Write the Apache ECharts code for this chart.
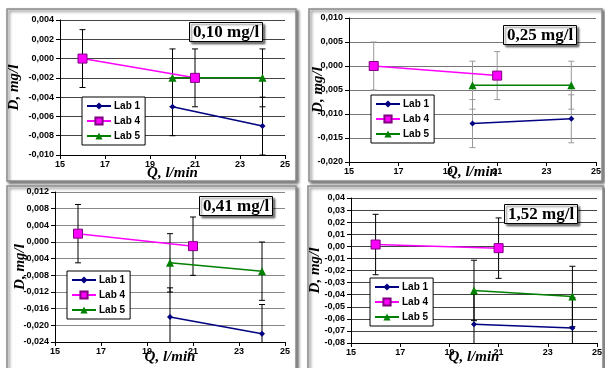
<!DOCTYPE html>
<html>
<head>
<meta charset="utf-8">
<script src="https://cdn.jsdelivr.net/npm/echarts@6/dist/echarts.min.js"></script>
<style>
  html, body { margin: 0; padding: 0; background: #fff; }
  #chart { width: 605px; height: 368px; }
</style>
</head>
<body>
<div id="chart"></div>
<script>
// data: [Q l/min, D mg/l]
const labNames = ['Lab 1', 'Lab 4', 'Lab 5'];
const xTicks = { min: 15, max: 25, interval: 2 };

// 0,10 mg/l
const p1Lab1 = [[20, -0.005], [24, -0.007]];
const p1Lab4 = [[16, 0.000], [21, -0.002]];
const p1Lab5 = [[20, -0.002], [24, -0.002]];
const p1Err = 0.003;
const p1Y = { min: -0.010, max: 0.004, interval: 0.002, dec: 3 };

// 0,25 mg/l
const p2Lab1 = [[20, -0.012], [24, -0.011]];
const p2Lab4 = [[16, 0.000], [21, -0.002]];
const p2Lab5 = [[20, -0.004], [24, -0.004]];
const p2Err = 0.005;
const p2Y = { min: -0.020, max: 0.010, interval: 0.005, dec: 3 };

// 0,41 mg/l
const p3Lab1 = [[20, -0.018], [24, -0.022]];
const p3Lab4 = [[16, 0.002], [21, -0.001]];
const p3Lab5 = [[20, -0.005], [24, -0.007]];
const p3Err = 0.007;
const p3Y = { min: -0.024, max: 0.012, interval: 0.004, dec: 3 };

// 1,52 mg/l
const p4Lab1 = [[20, -0.0645], [24, -0.0675]];
const p4Lab4 = [[16, 0.0015], [21, -0.0015]];
const p4Lab5 = [[20, -0.0365], [24, -0.0415]];
const p4Err = 0.025;
const p4Y = { min: -0.08, max: 0.04, interval: 0.01, dec: 2 };

const titles = ['0,10 mg/l', '0,25 mg/l', '0,41 mg/l', '1,52 mg/l'];

const panels = [
  { labs: [p1Lab1, p1Lab4, p1Lab5], err: p1Err, y: p1Y, title: titles[0],
    grid: { left: 60, top: 20, width: 225, height: 135 },
    frame: { x: 7, y: 9, width: 289, height: 172 },
    titlePos: { left: 189, top: 22 }, legendPos: { left: 82, top: 97 },
    gridColor: '#444', errColor: '#000', xNameGap: 11, yNameGap: 38 },
  { labs: [p2Lab1, p2Lab4, p2Lab5], err: p2Err, y: p2Y, title: titles[1],
    grid: { left: 349, top: 18, width: 247, height: 144 },
    frame: { x: 309, y: 9, width: 293, height: 172 },
    titlePos: { left: 503, top: 25 }, legendPos: { left: 371, top: 95 },
    gridColor: '#777', errColor: '#999', xNameGap: 3, yNameGap: 23 },
  { labs: [p3Lab1, p3Lab4, p3Lab5], err: p3Err, y: p3Y, title: titles[2],
    grid: { left: 55, top: 192, width: 230, height: 150 },
    frame: { x: 7, y: 186, width: 289, height: 200 },
    titlePos: { left: 199, top: 196 }, legendPos: { left: 67, top: 271 },
    gridColor: '#888', errColor: '#000', xNameGap: 8, yNameGap: 27 },
  { labs: [p4Lab1, p4Lab4, p4Lab5], err: p4Err, y: p4Y, title: titles[3],
    grid: { left: 351, top: 198, width: 246, height: 145 },
    frame: { x: 308, y: 186, width: 295, height: 200 },
    titlePos: { left: 504, top: 204 }, legendPos: { left: 370, top: 278 },
    gridColor: '#444', errColor: '#000', xNameGap: 7, yNameGap: 28 }
];

const labStyle = [
  { color: '#000080', symbol: 'diamond', symbolSize: 6, border: '#000080' },
  { color: '#ff00ff', symbol: 'rect', symbolSize: 9, border: '#800080' },
  { color: '#008000', symbol: 'triangle', symbolSize: 8, border: '#008000' }
];

const tickFont = { fontFamily: '"Liberation Sans Narrow", "Liberation Sans", Arial', fontWeight: 'bold', fontSize: 9, color: '#000' };
const nameFont = { fontFamily: '"Liberation Serif", "Times New Roman", serif', fontStyle: 'italic', fontWeight: 'bold', fontSize: 15, color: '#000' };

function errRenderer(color) {
  return function (params, api) {
    const x = api.value(0), y = api.value(1), e = api.value(2);
    const top = api.coord([x, y + e]);
    const bot = api.coord([x, y - e]);
    const cw = 3;
    const st = { stroke: color, lineWidth: 1 };
    return {
      type: 'group',
      children: [
        { type: 'line', shape: { x1: top[0], y1: top[1], x2: bot[0], y2: bot[1] }, style: st },
        { type: 'line', shape: { x1: top[0] - cw, y1: top[1], x2: top[0] + cw, y2: top[1] }, style: st },
        { type: 'line', shape: { x1: bot[0] - cw, y1: bot[1], x2: bot[0] + cw, y2: bot[1] }, style: st }
      ]
    };
  };
}

const option = {
  animation: false,
  backgroundColor: '#fff',
  graphic: [],
  title: [],
  legend: [],
  grid: [],
  xAxis: [],
  yAxis: [],
  series: []
};

panels.forEach(function (p, i) {
  option.graphic.push({
    type: 'rect', z: -10, silent: true,
    shape: p.frame,
    style: { fill: '#fff', stroke: '#8a8a8a', lineWidth: 1.5, shadowColor: 'rgba(0,0,0,0.55)', shadowBlur: 3, shadowOffsetX: 2, shadowOffsetY: 2 }
  });
  option.grid.push(Object.assign({ containLabel: false }, p.grid));
  option.title.push({
    text: p.title, left: p.titlePos.left, top: p.titlePos.top,
    padding: [2, 4, 1, 4],
    backgroundColor: '#fff', borderColor: '#000', borderWidth: 1,
    shadowColor: 'rgba(0,0,0,0.5)', shadowBlur: 2, shadowOffsetX: 2, shadowOffsetY: 2,
    textStyle: { fontFamily: '"Liberation Serif", "Times New Roman", serif', fontWeight: 'bold', fontSize: 17, color: '#000' }
  });
  option.legend.push({
    data: labNames, orient: 'vertical',
    left: p.legendPos.left, top: p.legendPos.top,
    padding: [4, 5, 4, 4], itemGap: 5, itemWidth: 24, itemHeight: 9,
    backgroundColor: '#fff', borderColor: '#000', borderWidth: 1,
    textStyle: { fontFamily: '"Liberation Sans Narrow", "Liberation Sans", Arial', fontWeight: 'bold', fontSize: 10, color: '#000', padding: [0, 0, 0, -2] }
  });
  option.xAxis.push({
    type: 'value', gridIndex: i,
    min: xTicks.min, max: xTicks.max, interval: xTicks.interval,
    name: 'Q, l/min', nameLocation: 'middle', nameGap: p.xNameGap, nameTextStyle: nameFont,
    nameMoveOverlap: false,
    axisLine: { show: true, onZero: false, lineStyle: { color: '#000', width: 1 } },
    axisTick: { show: true, inside: false, length: 4, lineStyle: { color: '#000' } },
    axisLabel: Object.assign({ margin: 5 }, tickFont),
    splitLine: { show: false }
  });
  option.yAxis.push({
    type: 'value', gridIndex: i,
    min: p.y.min, max: p.y.max, interval: p.y.interval,
    name: 'D, mg/l', nameLocation: 'middle', nameRotate: 90, nameGap: p.yNameGap, nameTextStyle: nameFont,
    nameMoveOverlap: false,
    axisLine: { show: true, lineStyle: { color: '#000', width: 1 } },
    axisTick: { show: true, inside: false, length: 4, lineStyle: { color: '#000' } },
    axisLabel: Object.assign({
      margin: 6,
      formatter: function (v) { return v.toFixed(p.y.dec).replace('.', ','); }
    }, tickFont),
    splitLine: { show: true, lineStyle: { color: p.gridColor, width: 1 } }
  });

  // error bars
  const errData = [];
  p.labs.forEach(function (lab) {
    lab.forEach(function (pt) { errData.push([pt[0], pt[1], p.err]); });
  });
  option.series.push({
    type: 'custom', xAxisIndex: i, yAxisIndex: i,
    renderItem: errRenderer(p.errColor), clip: true, z: 1,
    data: errData, silent: true
  });

  p.labs.forEach(function (lab, k) {
    const s = labStyle[k];
    option.series.push({
      name: labNames[k], type: 'line', xAxisIndex: i, yAxisIndex: i,
      data: lab, z: 3,
      symbol: s.symbol, symbolSize: s.symbolSize, showSymbol: true,
      lineStyle: { color: s.color, width: 1.5 },
      itemStyle: { color: s.color, borderColor: s.border, borderWidth: k === 1 ? 1 : 0 }
    });
  });
});

const chart = echarts.init(document.getElementById('chart'));
chart.setOption(option);
</script>
</body>
</html>
